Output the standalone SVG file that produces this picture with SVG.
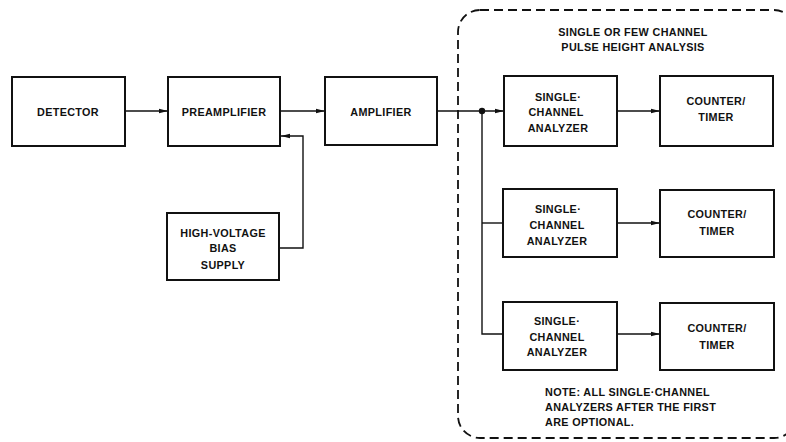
<svg xmlns="http://www.w3.org/2000/svg" width="786" height="442" viewBox="0 0 786 442">
<defs>
<marker id="ah" markerWidth="9" markerHeight="6" refX="9" refY="3" orient="auto" markerUnits="userSpaceOnUse">
<path d="M0,0.8 L9,3 L0,5.2 Z" fill="#111"/>
</marker>
<style>
.box{fill:#fff;stroke:#111;stroke-width:2}
.t{font-family:"Liberation Sans",Arial,sans-serif;font-size:10.8px;font-weight:bold;fill:#111;text-anchor:middle;letter-spacing:0.35px}
.tl{font-family:"Liberation Sans",Arial,sans-serif;font-size:10.8px;font-weight:bold;fill:#111;letter-spacing:0.35px}
.c{fill:none;stroke:#111;stroke-width:1.4}
.dash{fill:none;stroke:#111;stroke-width:1.8;stroke-dasharray:9 5}
</style>
</defs>
<rect width="786" height="442" fill="#fff"/>
<g id="region">
<rect class="dash" x="458" y="10" width="338" height="428" rx="22"/>
<text class="t" x="633" y="36">SINGLE OR FEW CHANNEL</text>
<text class="t" x="633" y="51">PULSE HEIGHT ANALYSIS</text>
</g>
<g id="connectors">
<line class="c" x1="125" y1="111" x2="168" y2="111" marker-end="url(#ah)"/>
<line class="c" x1="280" y1="111" x2="325" y2="111" marker-end="url(#ah)"/>
<polyline class="c" points="279,248 303,248 303,136 281,136" marker-end="url(#ah)"/>
<line class="c" x1="437" y1="111" x2="504" y2="111" marker-end="url(#ah)"/>
<circle cx="482" cy="111" r="3.2" fill="#111"/>
<polyline class="c" points="482,111 482,334 503,334"/>
<line class="c" x1="482" y1="223" x2="503" y2="223"/>
<line class="c" x1="617" y1="111" x2="660" y2="111" marker-end="url(#ah)"/>
<line class="c" x1="617" y1="223" x2="660" y2="223" marker-end="url(#ah)"/>
<line class="c" x1="617" y1="334" x2="660" y2="334" marker-end="url(#ah)"/>
</g>
<g id="detector">
<rect class="box" x="12" y="77" width="113" height="69"/>
<text class="t" x="68" y="116">DETECTOR</text>
</g>
<g id="preamplifier">
<rect class="box" x="168" y="77" width="112" height="69"/>
<text class="t" x="224" y="116">PREAMPLIFIER</text>
</g>
<g id="amplifier">
<rect class="box" x="325" y="77" width="112" height="68"/>
<text class="t" x="381" y="116">AMPLIFIER</text>
</g>
<g id="hv-supply">
<rect class="box" x="167" y="213" width="112" height="67"/>
<text class="t" x="223" y="237">HIGH-VOLTAGE</text>
<text class="t" x="223" y="252">BIAS</text>
<text class="t" x="223" y="269">SUPPLY</text>
</g>
<g id="sca1">
<rect class="box" x="504" y="76" width="113" height="70"/>
<text class="t" x="558" y="101">SINGLE·</text>
<text class="t" x="556" y="116">CHANNEL</text>
<text class="t" x="558" y="132">ANALYZER</text>
</g>
<g id="counter1">
<rect class="box" x="660" y="76" width="113" height="70"/>
<text class="t" x="716" y="105">COUNTER/</text>
<text class="t" x="716" y="121">TIMER</text>
</g>
<g id="sca2">
<rect class="box" x="503" y="189" width="114" height="68"/>
<text class="t" x="558" y="213">SINGLE·</text>
<text class="t" x="557" y="229">CHANNEL</text>
<text class="t" x="557" y="245">ANALYZER</text>
</g>
<g id="counter2">
<rect class="box" x="660" y="190" width="114" height="67"/>
<text class="t" x="717" y="218">COUNTER/</text>
<text class="t" x="717" y="235">TIMER</text>
</g>
<g id="sca3">
<rect class="box" x="503" y="302" width="114" height="68"/>
<text class="t" x="557" y="325">SINGLE·</text>
<text class="t" x="557" y="341">CHANNEL</text>
<text class="t" x="557" y="356">ANALYZER</text>
</g>
<g id="counter3">
<rect class="box" x="660" y="303" width="114" height="67"/>
<text class="t" x="717" y="332">COUNTER/</text>
<text class="t" x="717" y="349">TIMER</text>
</g>
<g id="note">
<text class="tl" x="545" y="396">NOTE:  ALL SINGLE·CHANNEL</text>
<text class="tl" x="545" y="411">ANALYZERS AFTER THE FIRST</text>
<text class="tl" x="545" y="426">ARE OPTIONAL.</text>
</g>
</svg>
